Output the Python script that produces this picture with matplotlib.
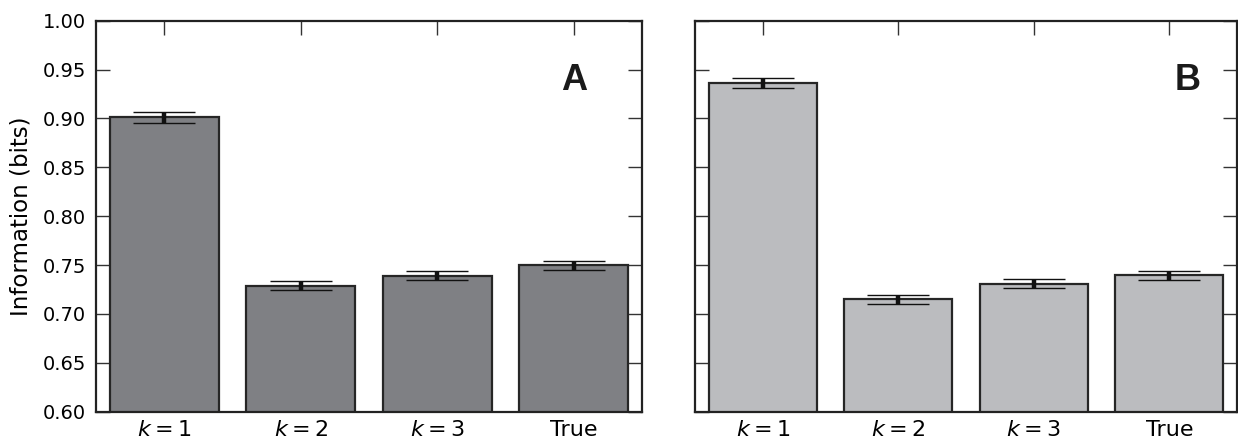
import matplotlib
matplotlib.use('Agg')
import matplotlib.pyplot as plt
import numpy as np

# data
labels = [r'$k=1$', r'$k=2$', r'$k=3$', 'True']
info_a = [0.901, 0.729, 0.739, 0.750]
err_a = [0.0056, 0.0045, 0.0046, 0.0046]
info_b = [0.936, 0.715, 0.731, 0.7395]
err_b = [0.0053, 0.0044, 0.0043, 0.0043]

plt.rcParams['font.family'] = 'DejaVu Sans'
plt.rcParams['mathtext.fontset'] = 'dejavusans'

fig = plt.figure(figsize=(12.38, 4.46), dpi=100)
ax_a = fig.add_axes([0.0775, 0.077, 0.4411, 0.8766])
ax_b = fig.add_axes([0.5614, 0.077, 0.4378, 0.8766])

x = np.arange(len(labels))
panels = [(ax_a, info_a, err_a, '#7f8084', 'A', 0.875),
          (ax_b, info_b, err_b, '#bbbcbf', 'B', 0.908)]

for ax, vals, errs, col, tag, tx in panels:
    ax.bar(x, vals, width=0.8, color=col, edgecolor='#262626', linewidth=1.6, zorder=2)
    ax.errorbar(x, vals, yerr=errs, fmt='none', ecolor='#111111', elinewidth=3.2,
                capsize=22, capthick=1.0, zorder=3)
    ax.set_xlim(-0.5, 3.5)
    ax.set_ylim(0.60, 1.00)
    ax.set_yticks(np.arange(0.60, 1.0001, 0.05))
    ax.set_xticks(x)
    ax.set_xticklabels(labels, fontsize=16)
    ax.tick_params(direction='in', top=True, right=True, length=10, width=1,
                   color='#333333')
    ax.tick_params(axis='x', pad=6)
    ax.tick_params(axis='y', labelsize=14, pad=7)
    for s in ax.spines.values():
        s.set_linewidth(1.6)
        s.set_color('#222222')
    ax.text(tx, 0.847, tag, transform=ax.transAxes, ha='center', va='center',
            fontsize=26, fontweight='bold', family='Liberation Sans', color='#1a1a1a')

ax_a.set_yticklabels(['%.2f' % v for v in np.arange(0.60, 1.0001, 0.05)])
ax_a.set_ylabel('Information (bits)', fontsize=16.5)
ax_a.yaxis.set_label_coords(-0.117, 0.5)
ax_b.set_yticklabels([])

fig.savefig('out.png', dpi=100)
